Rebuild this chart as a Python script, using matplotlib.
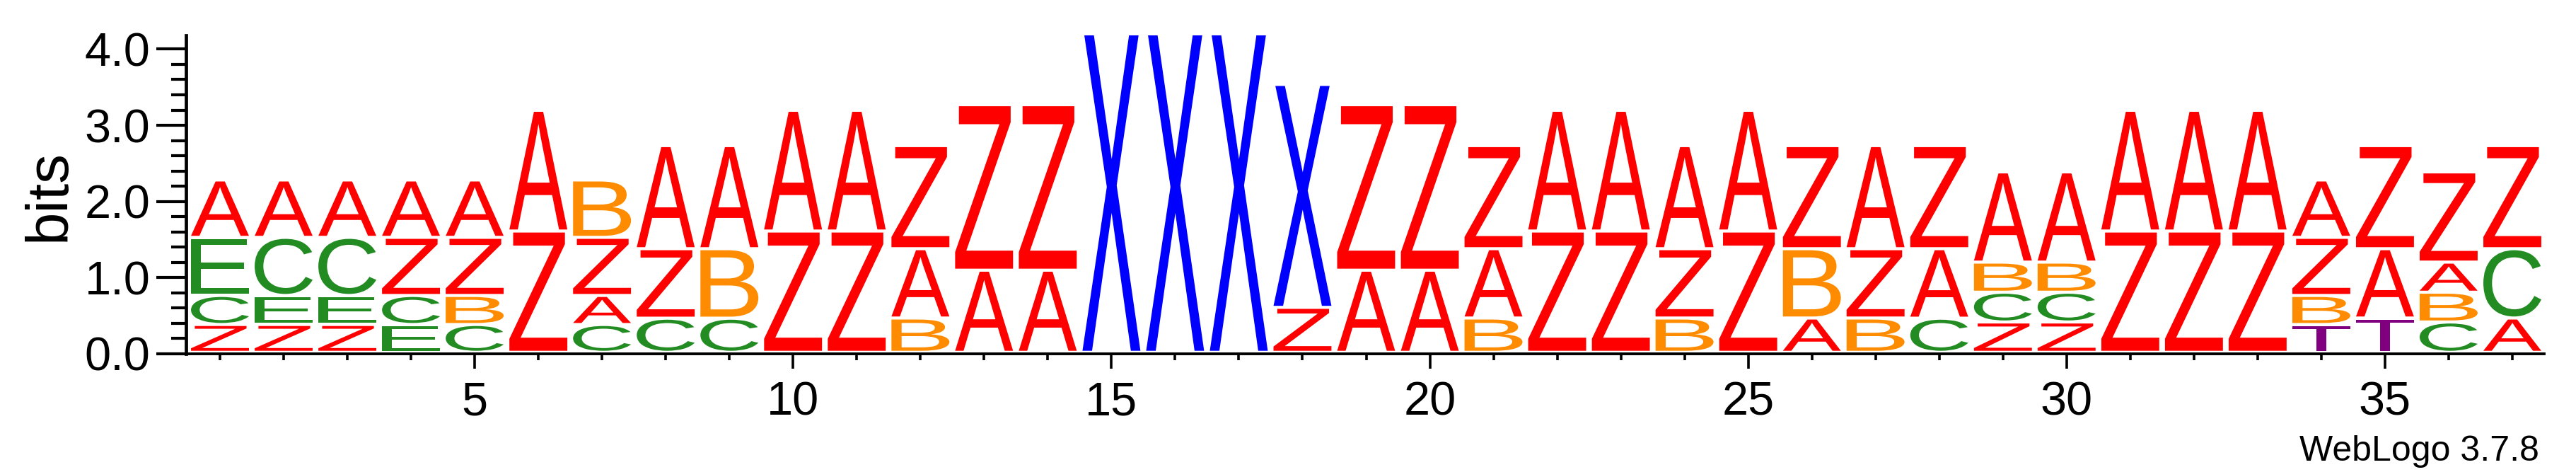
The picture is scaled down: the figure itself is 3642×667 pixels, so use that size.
import matplotlib
matplotlib.use("Agg")
import matplotlib.pyplot as plt
from matplotlib.textpath import TextPath
from matplotlib.patches import PathPatch
from matplotlib.font_manager import FontProperties
from matplotlib.transforms import Affine2D
from matplotlib.ticker import MultipleLocator, FormatStrFormatter

# letters of each position, bottom to top
stacks = [
    "ZCEA", "ZECA", "ZECA", "ECZA", "CBZA", "ZA", "CAZB", "CZA", "CBA", "ZA",
    "ZA", "BAZ", "AZ", "AZ", "X", "X", "X", "ZX", "AZ", "AZ",
    "BAZ", "ZA", "ZA", "BZA", "ZA", "ABZ", "BZA", "CAZ", "ZCBA", "ZCBA",
    "ZA", "ZA", "ZA", "TBZA", "TAZ", "CBAZ", "ACZ",
]

# heights in bits, same order as the letters
heights = [
    [0.365, 0.381, 0.763, 0.753], [0.365, 0.381, 0.763, 0.753],
    [0.365, 0.381, 0.763, 0.753], [0.365, 0.381, 0.763, 0.753],
    [0.365, 0.381, 0.763, 0.753], [1.592, 1.585],
    [0.365, 0.381, 0.763, 0.753], [0.448, 0.912, 1.353],
    [0.448, 0.912, 1.353], [1.592, 1.585],
    [1.592, 1.585], [0.45, 0.91, 1.353],
    [1.078, 2.172], [1.078, 2.172],
    [4.18], [4.18], [4.18], [0.59, 2.926],
    [1.078, 2.172], [1.078, 2.172],
    [0.45, 0.91, 1.353], [1.592, 1.585], [1.592, 1.585],
    [0.45, 0.91, 1.353], [1.592, 1.585], [0.45, 0.91, 1.353],
    [0.45, 0.91, 1.353], [0.448, 0.912, 1.353],
    [0.398, 0.391, 0.395, 1.184], [0.398, 0.391, 0.395, 1.184],
    [1.592, 1.585], [1.592, 1.585], [1.592, 1.585],
    [0.365, 0.381, 0.763, 0.753], [0.45, 0.91, 1.353],
    [0.398, 0.391, 0.395, 1.184], [0.45, 0.91, 1.353],
]

colors = {
    "A": "#ff0000", "Z": "#ff0000", "B": "#ff8c00",
    "C": "#228b22", "E": "#228b22", "X": "#0000ff", "T": "#800080",
}

fp = FontProperties(family="Liberation Sans")
gap = 0.04
width = 0.91


def draw_letter(ax, ch, xc, y0, h, color):
    tp = TextPath((0, 0), ch, size=1, prop=fp)
    bb = tp.get_extents()
    t = (Affine2D()
         .translate(-bb.x0, -bb.y0)
         .scale(width / bb.width, h / bb.height)
         .translate(xc - width / 2, y0))
    ax.add_patch(PathPatch(t.transform_path(tp), fc=color, ec="none", lw=0))


fig = plt.figure(figsize=(36.42, 6.67), dpi=100)
ax = fig.add_axes([266 / 3642, 167 / 667, 3331 / 3642, 450 / 667])

for i, (letters, hs) in enumerate(zip(stacks, heights)):
    base = 0.0
    for ch, h in zip(letters, hs):
        draw_letter(ax, ch, i + 1, base + gap, h - gap, colors[ch])
        base += h

ax.set_xlim(0.5, 37.5)
ax.set_ylim(0, 4.18)

for s in ["top", "right"]:
    ax.spines[s].set_visible(False)
ax.spines["left"].set_position(("outward", 2.5))
ax.spines["left"].set_linewidth(3.4)
ax.spines["bottom"].set_linewidth(2.8)

ax.xaxis.set_major_locator(MultipleLocator(5))
ax.xaxis.set_minor_locator(MultipleLocator(1))
ax.yaxis.set_major_locator(MultipleLocator(1))
ax.yaxis.set_minor_locator(MultipleLocator(0.2))
ax.yaxis.set_major_formatter(FormatStrFormatter("%.1f"))

ax.tick_params(axis="y", which="major", length=30, width=3.0, pad=6,
               labelsize=48)
ax.tick_params(axis="y", which="minor", length=15, width=3.0)
ax.tick_params(axis="x", which="major", length=15, width=2.6, pad=13,
               labelsize=48)
ax.tick_params(axis="x", which="minor", length=6.5, width=2.6)
for lab in ax.get_xticklabels() + ax.get_yticklabels():
    lab.set_fontfamily("Liberation Sans")

fig.text(69.5 / 3642, (667 - 276) / 667, "bits", rotation=90, ha="center",
         va="center", fontsize=60, fontfamily="Liberation Sans")

fig.text(3590 / 3642, (667 - 651) / 667, "WebLogo 3.7.8", ha="right",
         va="baseline", fontsize=36, fontfamily="Liberation Sans")

fig.savefig("out.png", dpi=100)
